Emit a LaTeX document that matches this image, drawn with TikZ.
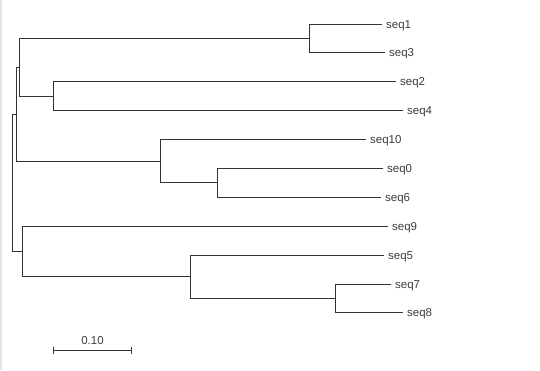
\documentclass[tikz,border=0pt]{standalone}
\usepackage{fontspec}
\setmainfont{Liberation Sans}
\usepackage{tikz}
\usetikzlibrary{arrows.meta,positioning,calc}
\usepackage{xcolor}
\definecolor{treeline}{HTML}{333333}
\definecolor{treetext}{HTML}{3C3C3C}
\definecolor{edgegray}{HTML}{E4E4E4}
\tikzset{
  branch/.style={
    draw=treeline,
    line width=1pt
  },
  leaflabel/.style={
    anchor=west,
    inner sep=0pt,
    yshift=-1.5pt,
    text=treetext,
    font=\fontsize{11.5}{13}\selectfont
  },
  scalebar/.style={
    {Bar[width=7pt]}-{Bar[width=7pt]},
    draw=treeline,
    line width=1pt
  }
}

\begin{document}
\begin{tikzpicture}[x=1pt,y=-1pt,node distance=4pt]
\useasboundingbox (0,0) rectangle (540,370);
\draw[edgegray, line width=2pt] (1,0) -- (1,370);
% leaves
\coordinate (t1) at (382,24);
\coordinate (t3) at (385,52.5);
\coordinate (t2) at (396,81);
\coordinate (t4) at (403,110);
\coordinate (t10) at (366,139);
\coordinate (t0) at (383,168);
\coordinate (t6) at (381,197);
\coordinate (t9) at (388,226);
\coordinate (t5) at (384,255);
\coordinate (t7) at (391,284);
\coordinate (t8) at (403,312);
\foreach \t in {1,3,2,4,10,0,6,9,5,7,8} {
  \node[leaflabel, right=of t\t] (l\t) {seq\t};
}
% internal nodes
\coordinate (n13) at (309,38);
\coordinate (n24) at (53,96);
\coordinate (nA) at (19,67);
\coordinate (n06) at (217,182.5);
\coordinate (n1006) at (160,161);
\coordinate (nB) at (16,114);
\coordinate (n78) at (335,298);
\coordinate (n578) at (190,276.5);
\coordinate (n9578) at (22,251);
\coordinate (root) at (12,182.5);
\foreach \a/\b in {root/nB,root/n9578,nB/nA,nB/n1006,nA/n13,nA/n24,
  n13/t1,n13/t3,n24/t2,n24/t4,n1006/t10,n1006/n06,n06/t0,n06/t6,
  n9578/t9,n9578/n578,n578/t5,n578/n78,n78/t7,n78/t8} {
  \draw[branch] (\a) |- (\b);
}
% scale
\coordinate (sbl) at (53,350);
\coordinate (sbr) at (132,350);
\draw[scalebar] (sbl) -- (sbr);
\node[leaflabel, anchor=south, yshift=2pt] (sblabel) at ($(sbl)!0.5!(sbr)+(0,-5)$) {0.10};
\end{tikzpicture}
\end{document}
